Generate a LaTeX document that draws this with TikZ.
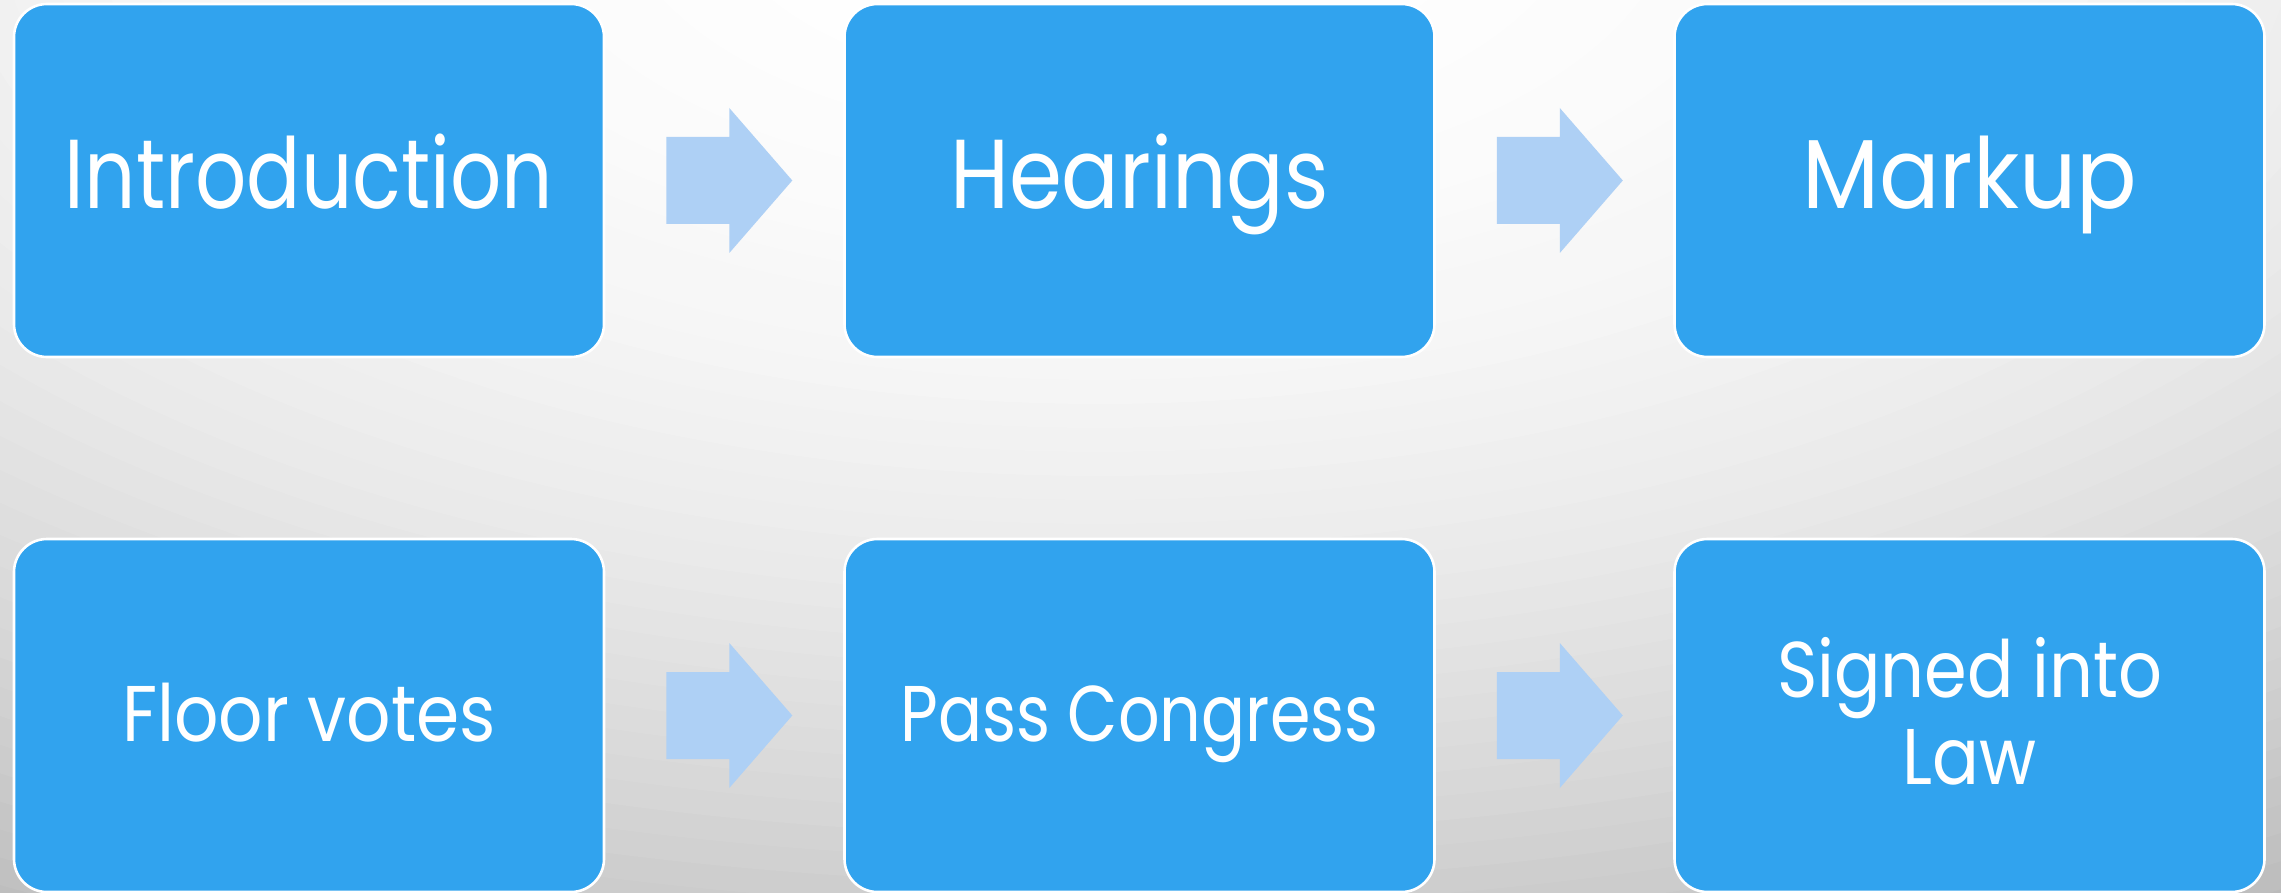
\documentclass[tikz,border=0pt]{standalone}
\usepackage{fontspec}
\setmainfont{Poppins}
\usepackage{graphicx}
\definecolor{boxblue}{HTML}{31A3EE}
\definecolor{arrowblue}{HTML}{AED0F5}
\newcommand\fitw[2]{\resizebox{#1}{\height}{#2}}
\tikzset{
  stepbox/.style={draw=white, line width=1.3pt, fill=boxblue, rounded corners=16.5pt,
    minimum width=295pt, minimum height=176.5pt, inner sep=0pt, text=white, align=center},
  bigtext/.style={font=\fontsize{49}{54}\selectfont, text height=40pt, text depth=11.5pt},
  smalltext/.style={font=\fontsize{39.5}{43.5}\selectfont, text height=37pt, text depth=11.5pt},
  twoline/.style={font=\fontsize{39.5}{43.5}\selectfont, text height=20pt, text depth=38.5pt},
  arrowfill/.style={fill=arrowblue}
}
\newcommand\flowarrow[1]{%
  \fill[arrowfill] ([shift={(30.5pt,21.75pt)}]#1.east) -- ([shift={(62pt,21.75pt)}]#1.east)
    -- ([shift={(62pt,36.25pt)}]#1.east) -- ([shift={(93.5pt,0pt)}]#1.east)
    -- ([shift={(62pt,-36.25pt)}]#1.east) -- ([shift={(62pt,-21.75pt)}]#1.east)
    -- ([shift={(30.5pt,-21.75pt)}]#1.east) -- cycle;}
\begin{document}
\begin{tikzpicture}[x=0.5pt,y=-0.5pt]
\useasboundingbox (0,0) rectangle (2281,893);
\begin{scope}
  \clip (0,0) rectangle (2281,893);
  \fill[black!28] (0,0) rectangle (2281,893);
  \foreach \i in {50,49,...,1}{
    \pgfmathsetmacro\g{28*(\i/50)^2.2}
    \fill[overlay, black!\g] (1100,-100) ellipse [x radius=48*\i, y radius=24*\i];
  }
\end{scope}
\node[stepbox, bigtext] (b1) at (309,180.5) {\fitw{244pt}{Introduction}};
\node[stepbox, bigtext] (b2) at (1139.5,180.5) {\fitw{189.5pt}{Hearings}};
\node[stepbox, bigtext] (b3) at (1969.5,180.5) {\fitw{167.5pt}{Markup}};
\node[stepbox, smalltext] (b4) at (309,715.5) {\fitw{187pt}{Floor votes}};
\node[stepbox, smalltext] (b5) at (1139.5,715.5) {\fitw{239pt}{Pass Congress}};
\node[stepbox, twoline] (b6) at (1969.5,715.5) {\begin{tabular}[t]{@{}c@{}}\fitw{192.5pt}{Signed into}\\\fitw{67pt}{Law}\end{tabular}};
\flowarrow{b1}
\flowarrow{b2}
\flowarrow{b4}
\flowarrow{b5}
\end{tikzpicture}
\end{document}
